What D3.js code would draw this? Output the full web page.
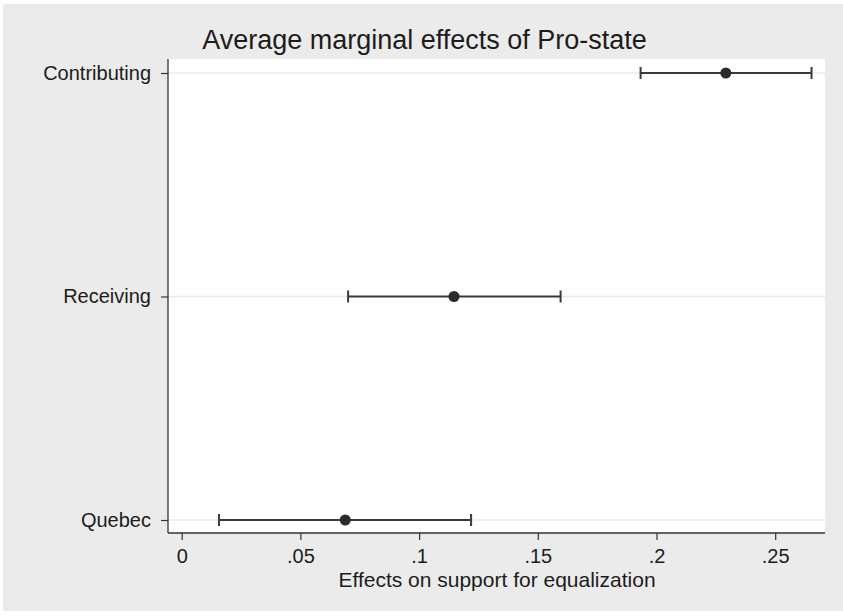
<!DOCTYPE html>
<html>
<head>
<meta charset="utf-8">
<script src="https://cdn.jsdelivr.net/npm/d3@7"></script>
<style>
  body { margin: 0; background: #fff; }
  svg text { font-family: "Liberation Sans", Arial, Helvetica, sans-serif; fill: #1c1c1c; }
</style>
</head>
<body>
<div id="chart"></div>
<script>
// data
const categories = ["Contributing", "Receiving", "Quebec"];
const estimates = [0.2292, 0.1147, 0.0689];
const lowerCI = [0.1933, 0.0701, 0.0157];
const upperCI = [0.2653, 0.1596, 0.1219];
const xTicks = [0, 0.05, 0.1, 0.15, 0.2, 0.25];
const xTickLabels = ["0", ".05", ".1", ".15", ".2", ".25"];

const W = 843, H = 615;
const plot = {left: 168, right: 825, top: 59, bottom: 533};

const svg = d3.select("#chart").append("svg")
    .attr("width", W)
    .attr("height", H);

// outer graph region
svg.append("rect")
    .attr("x", 3).attr("y", 4)
    .attr("width", W - 3).attr("height", 607)
    .attr("fill", "#ebebeb");

// plot region
svg.append("rect")
    .attr("x", plot.left).attr("y", plot.top)
    .attr("width", plot.right - plot.left)
    .attr("height", plot.bottom - plot.top)
    .attr("fill", "#fff");

const x = d3.scaleLinear()
    .domain([0, 0.25])
    .range([181.7, 775.2]);

const y = d3.scalePoint()
    .domain(categories)
    .range([73, 520]);

// grid lines
svg.append("g")
    .selectAll("line")
    .data(categories)
    .join("line")
    .attr("x1", plot.left).attr("x2", plot.right)
    .attr("y1", d => y(d)).attr("y2", d => y(d))
    .attr("stroke", "#eaeaea")
    .attr("stroke-width", 1.5);

// x axis
const xAxis = svg.append("g")
    .attr("transform", `translate(0,${plot.bottom})`)
    .call(d3.axisBottom(x)
        .tickValues(xTicks)
        .tickFormat((d, i) => xTickLabels[i])
        .tickSize(7)
        .tickPadding(9));
xAxis.select(".domain").remove();
xAxis.selectAll("line").attr("stroke", "#333").attr("stroke-width", 1.2);
xAxis.selectAll("text").style("font-size", "20px")
    .style("font-family", "'Liberation Sans', Arial, sans-serif").attr("fill", "#1c1c1c");
svg.append("line")
    .attr("x1", plot.left).attr("x2", plot.right)
    .attr("y1", plot.bottom).attr("y2", plot.bottom)
    .attr("stroke", "#333").attr("stroke-width", 1.3);

// y axis
const yAxis = svg.append("g")
    .attr("transform", `translate(${plot.left},0)`)
    .call(d3.axisLeft(y).tickSize(7).tickPadding(10));
yAxis.select(".domain").remove();
yAxis.selectAll("line").attr("stroke", "#333").attr("stroke-width", 1.2);
yAxis.selectAll("text").style("font-size", "20px")
    .style("font-family", "'Liberation Sans', Arial, sans-serif").attr("fill", "#1c1c1c");
svg.append("line")
    .attr("x1", plot.left).attr("x2", plot.left)
    .attr("y1", plot.top).attr("y2", plot.bottom)
    .attr("stroke", "#333").attr("stroke-width", 1.3);

// confidence intervals
const rows = categories.map((c, i) => ({cat: c, est: estimates[i], lo: lowerCI[i], hi: upperCI[i]}));
const ci = svg.append("g");
ci.selectAll(".bar")
    .data(rows)
    .join("line")
    .attr("x1", d => x(d.lo)).attr("x2", d => x(d.hi))
    .attr("y1", d => y(d.cat)).attr("y2", d => y(d.cat))
    .attr("stroke", "#3a3a3a").attr("stroke-width", 2);
["lo", "hi"].forEach(k => {
    ci.selectAll(".cap-" + k)
        .data(rows)
        .join("line")
        .attr("x1", d => x(d[k])).attr("x2", d => x(d[k]))
        .attr("y1", d => y(d.cat) - 6).attr("y2", d => y(d.cat) + 6)
        .attr("stroke", "#3a3a3a").attr("stroke-width", 2);
});

// point estimates
svg.append("g")
    .selectAll("circle")
    .data(rows)
    .join("circle")
    .attr("cx", d => x(d.est))
    .attr("cy", d => y(d.cat))
    .attr("r", 5.5)
    .attr("fill", "#2b2b2b");

// titles
svg.append("text")
    .attr("x", 424.5).attr("y", 49.3)
    .attr("text-anchor", "middle")
    .style("font-size", "27px")
    .text("Average marginal effects of Pro-state");

svg.append("text")
    .attr("x", 497).attr("y", 586.7)
    .attr("text-anchor", "middle")
    .style("font-size", "21px")
    .text("Effects on support for equalization");
</script>
</body>
</html>
